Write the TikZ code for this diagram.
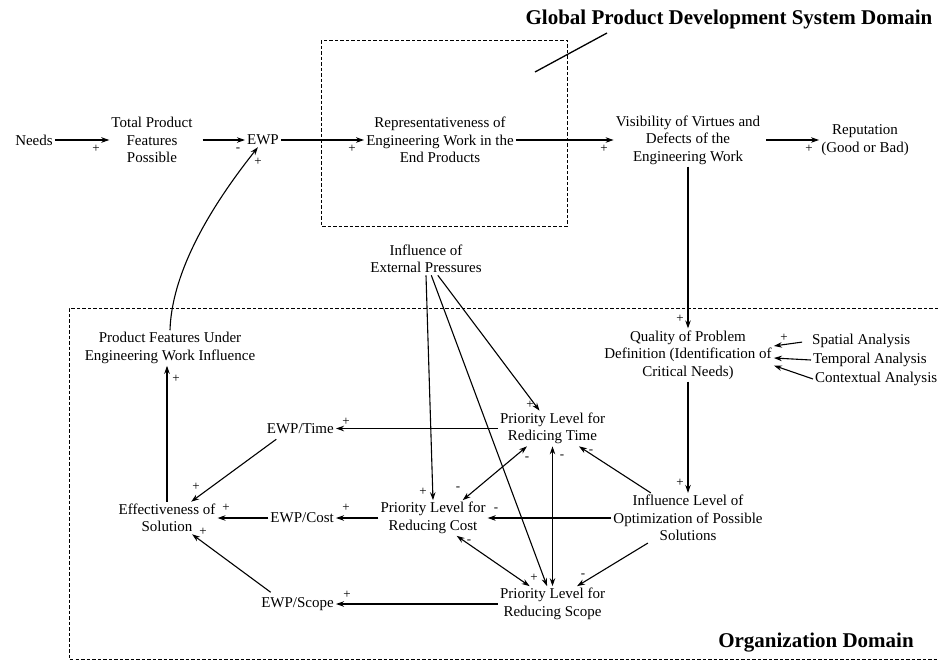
\documentclass[tikz,border=0pt]{standalone}
\usepackage{fontspec}
\setmainfont{Liberation Serif}
\usetikzlibrary{arrows.meta}
\begin{document}
\begin{tikzpicture}[x=1pt,y=-1pt,
  lbl/.style={font=\fontsize{15}{17.5}\selectfont, align=center, inner sep=2pt},
  sgn/.style={font=\fontsize{13}{13}\selectfont, inner sep=0pt},
  dom/.style={font=\fontsize{21}{24}\selectfont\bfseries, inner sep=0pt},
  arr/.style={line width=1.1pt, -{Stealth[length=8pt,width=5.5pt]}},
  darr/.style={line width=1.1pt, {Stealth[length=8pt,width=5.5pt]}-{Stealth[length=8pt,width=5.5pt]}},
  bound/.style={line width=1pt, dash pattern=on 3.5pt off 2pt},
]
\useasboundingbox (0,0) rectangle (938,662);
\fill[white] (0,0) rectangle (938,662);

% domain boundaries
\draw[bound] (321,40) rectangle (567,226);
\draw[bound] (938,308) -- (69,308) -- (69,659) -- (938,659);
\node[dom] (gtitle) at (729,19) {Global Product Development System Domain};
\coordinate (gp1) at (535,72);
\coordinate (gp2) at (607,33);
\draw[line width=1.3pt] (gp1) -- (gp2);
\node[dom] (otitle) at (816,643) {Organization Domain};

% product development chain
\node[lbl] (needs) at (34,140) {Needs};
\node[lbl] (tpf) at (152,140) {Total Product\\Features\\Possible};
\node[lbl] (ewp) at (263,140) {EWP};
\node[lbl] (repr) at (440,140) {Representativeness of\\Engineering Work in the\\End Products};
\node[lbl] (vis) at (688,140) {Visibility of Virtues and\\Defects of the\\Engineering Work};
\node[lbl] (reput) at (865,140) {Reputation\\(Good or Bad)};

% organization variables
\node[lbl] (ext) at (426,259) {Influence of\\External Pressures};
\node[lbl] (pfeat) at (170,348) {Product Features Under\\Engineering Work Influence};
\node[lbl] (quality) at (688,355) {Quality of Problem\\Definition (Identification of\\Critical Needs)};
\node[lbl, anchor=west] (spatial) at (810,341) {Spatial Analysis};
\node[lbl, anchor=west] (temporal) at (811,360) {Temporal Analysis};
\node[lbl, anchor=west] (contextual) at (813,379) {Contextual Analysis};
\node[lbl] (ptime) at (552.5,428.5) {Priority Level for\\Redicing Time};
\node[lbl, anchor=east] (ewptime) at (336,429) {EWP/Time};
\node[lbl] (eff) at (167,518) {Effectiveness of\\Solution};
\node[lbl, anchor=east] (ewpcost) at (336,518) {EWP/Cost};
\node[lbl] (pcost) at (433,518) {Priority Level for\\Reducing Cost};
\node[lbl] (inflevel) at (688,518) {Influence Level of\\Optimization of Possible\\Solutions};
\node[lbl] (pscope) at (552.5,604) {Priority Level for\\Reducing Scope};
\node[lbl, anchor=east] (ewpscope) at (336,604) {EWP/Scope};

% causal links
\draw[arr] (needs) -- (tpf);
\draw[arr, shorten <=8pt] (tpf) -- (ewp);
\draw[arr] (ewp) -- (repr);
\draw[arr] (repr) -- (vis);
\draw[arr, shorten <=4pt] (vis) -- (reput);
\draw[arr] (vis) -- (quality);
\draw[arr] (quality) -- (inflevel);
\draw[arr, shorten <=8pt] (spatial.west) -- (quality.6);
\draw[arr] (temporal.west) -- (quality.-2);
\draw[arr] (contextual.west) -- (quality.-7);
\draw[arr] (pfeat.north) .. controls (172,265) and (220,195) .. (ewp.235);
\draw[arr] (eff.north) -- (eff.north |- pfeat.south);
\draw[arr] (ptime.west) -- (ptime.west -| ewptime.east);
\draw[arr] (pcost) -- (ewpcost);
\draw[arr] (ewpcost) -- (eff);
\draw[arr] (pscope.west) -- (pscope.west -| ewpscope.east);
\draw[arr, shorten <=5pt] (ewptime.200) -- (eff.34);
\draw[arr, shorten <=5pt] (ewpscope.159) -- (eff.-33);
\draw[arr] (inflevel) -- (pcost);
\draw[arr] (inflevel.146) -- (ptime.-34);
\draw[arr] (inflevel.212) -- (pscope.36);
\draw[darr] (ptime.south) -- (ptime.south |- pscope.north);
\draw[darr] (ptime.215) -- (pcost.31);
\draw[darr] (pcost.-37) -- (pscope.142);
\draw[arr] (ext.south) -- (pcost.north);
\draw[arr] (ext.-72) -- (pscope.107);
\draw[arr] (ext.-54) -- (ptime.126);

% polarity signs
\node[sgn] (s1) at (96,149) {+};
\node[sgn] (s2) at (238,150) {-};
\node[sgn] (s3) at (352,149) {+};
\node[sgn] (s4) at (604,149) {+};
\node[sgn] (s5) at (809,149) {+};
\node[sgn] (s6) at (258,162) {+};
\node[sgn] (s7) at (680,319) {+};
\node[sgn] (s8) at (784,338) {+};
\node[sgn] (s9) at (176,379) {+};
\node[sgn] (s10) at (346,422) {+};
\node[sgn] (s11) at (196,487) {+};
\node[sgn] (s12) at (226,508) {+};
\node[sgn] (s13) at (346,508) {+};
\node[sgn] (s14) at (347,595) {+};
\node[sgn] (s15) at (203,532) {+};
\node[sgn] (s16) at (680,483) {+};
\node[sgn] (s17) at (496,510) {-};
\node[sgn] (s18) at (591,452) {-};
\node[sgn] (s19) at (583,576) {-};
\node[sgn] (s20) at (562,457) {-};
\node[sgn] (s21) at (527,459) {-};
\node[sgn] (s22) at (458,489) {-};
\node[sgn] (s23) at (469,542) {-};
\node[sgn] (s24) at (534,578) {+};
\node[sgn] (s25) at (423,492) {+};
\node[sgn] (s26) at (530,405) {+};
\end{tikzpicture}
\end{document}
